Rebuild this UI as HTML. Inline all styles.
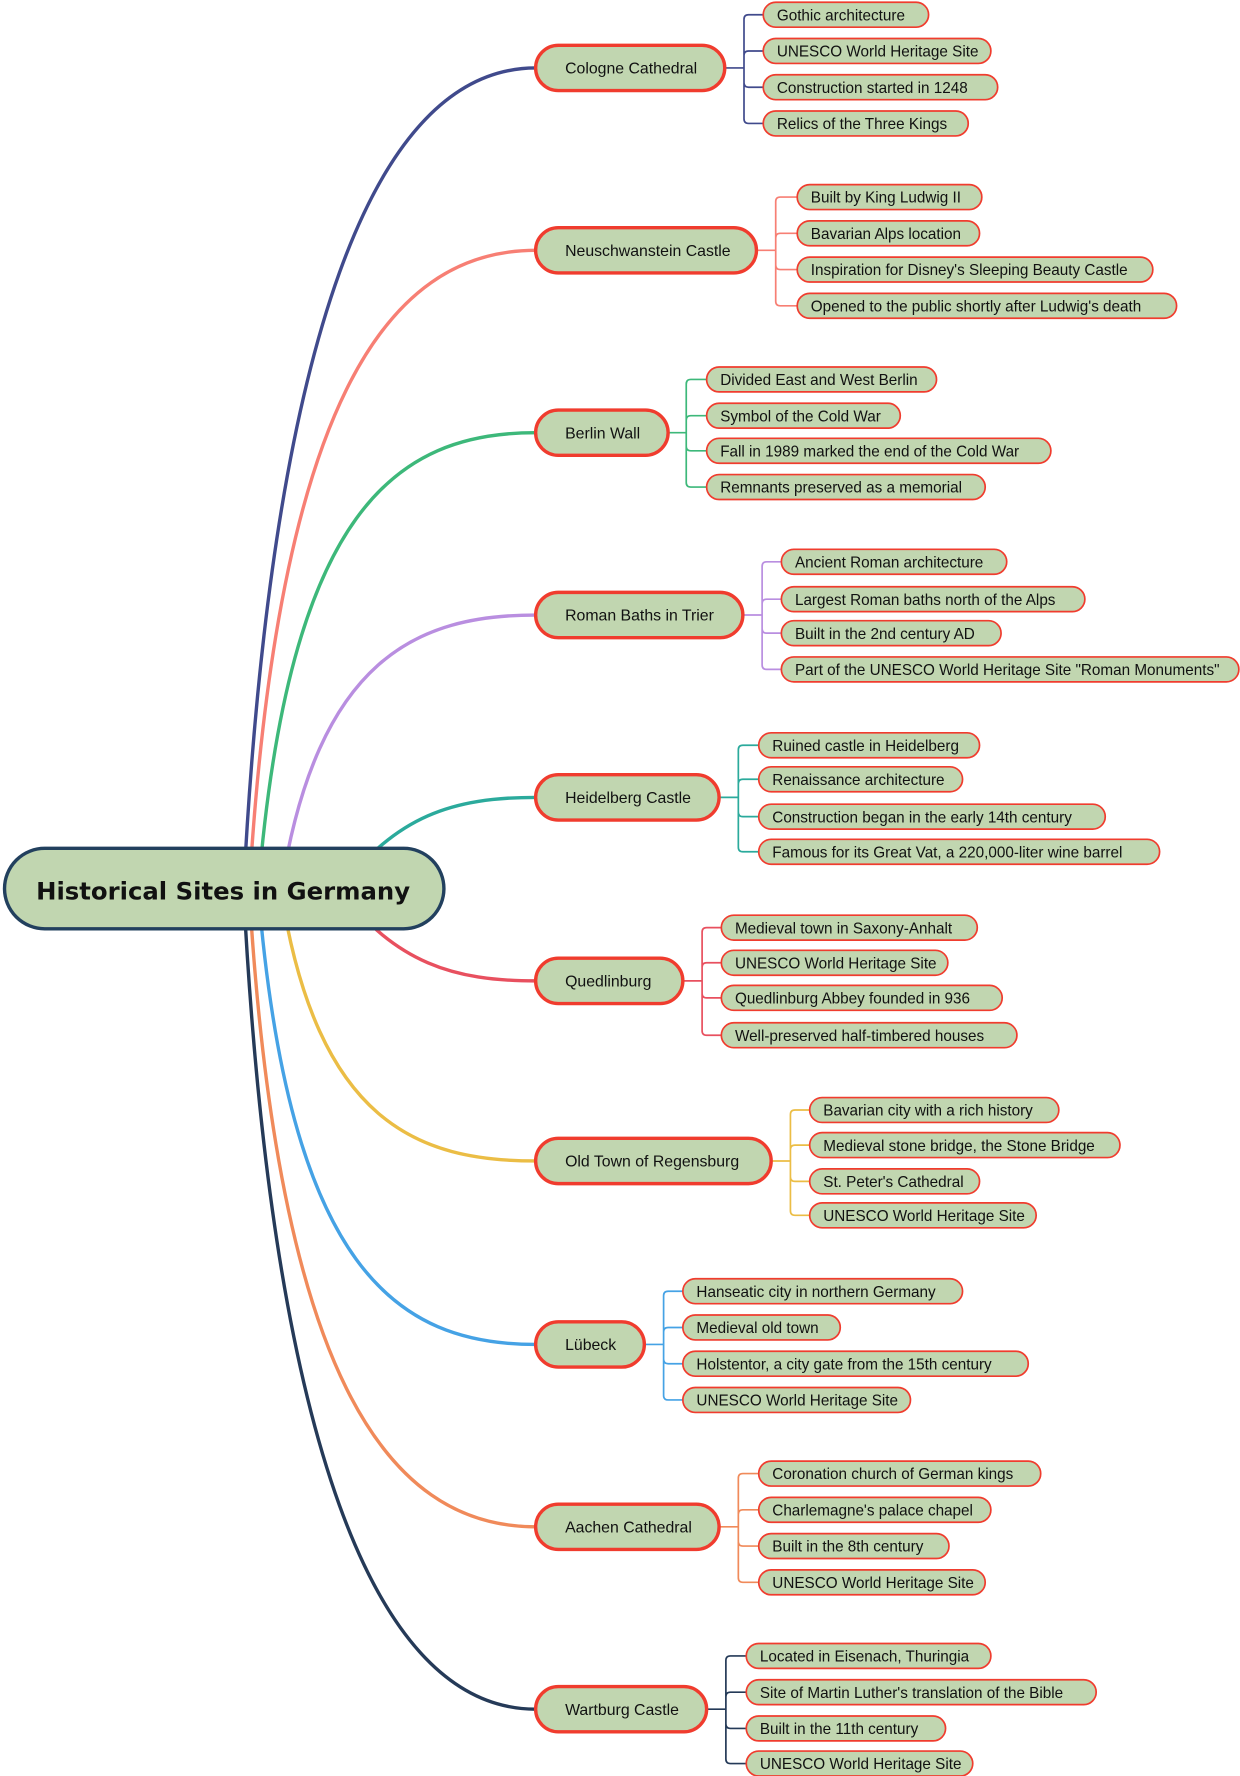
<!DOCTYPE html>
<html><head><meta charset="utf-8"><style>
html,body{margin:0;padding:0;background:#fff;}
svg{display:block;}
text{font-family:"Liberation Sans","DejaVu Sans",sans-serif;fill:#111;}
.b rect{fill:#c1d6b0;stroke:#f03c2e;stroke-width:3;}
.b text{font-size:14px;}
.l rect{fill:#c1d6b0;stroke:#f03c2e;stroke-width:1.5;}
.l text{font-size:13.5px;}
.c{fill:none;stroke-width:1.5;}
.m{fill:none;stroke-width:3;}
</style></head><body>
<svg width="1240" height="1776" viewBox="0 0 1095 1568" preserveAspectRatio="none" xmlns="http://www.w3.org/2000/svg">
<path class="m" stroke="#404a8c" d="M215,786 C240,300 330,60 473,60"/>
<path class="m" stroke="#f77f74" d="M220,786 C245,360 340,221 473,221"/>
<path class="m" stroke="#3db87a" d="M228,786 C255,450 350,382 473,382"/>
<path class="m" stroke="#b98ee0" d="M248,786 C280,580 370,543 473,543"/>
<path class="m" stroke="#2baa9c" d="M300,786 C350,720 400,704 473,704"/>
<path class="m" stroke="#e8505f" d="M300,786 C350,850 400,866 473,866"/>
<path class="m" stroke="#ebbd45" d="M248,786 C280,992 370,1025 473,1025"/>
<path class="m" stroke="#45a2e5" d="M228,786 C255,1120 350,1187 473,1187"/>
<path class="m" stroke="#f08a5a" d="M220,786 C245,1210 340,1348 473,1348"/>
<path class="m" stroke="#253a58" d="M215,786 C240,1270 330,1509 473,1509"/>

<path class="c" stroke="#404a8c" d="M640,60H657 M657,60V17Q657,13 661,13H674 M657,60V49Q657,45 661,45H674 M657,60V73Q657,77 661,77H674 M657,60V105Q657,109 661,109H674"/>
<path class="c" stroke="#f77f74" d="M668,221H685 M685,221V178Q685,174 689,174H704 M685,221V210Q685,206 689,206H704 M685,221V234Q685,238 689,238H704 M685,221V266Q685,270 689,270H704"/>
<path class="c" stroke="#3db87a" d="M590,382H606 M606,382V339Q606,335 610,335H624 M606,382V371Q606,367 610,367H624 M606,382V394Q606,398 610,398H624 M606,382V426Q606,430 610,430H624"/>
<path class="c" stroke="#b98ee0" d="M656,543H673 M673,543V500Q673,496 677,496H690 M673,543V533Q673,529 677,529H690 M673,543V555Q673,559 677,559H690 M673,543V587Q673,591 677,591H690"/>
<path class="c" stroke="#2baa9c" d="M635,704H652 M652,704V662Q652,658 656,658H670 M652,704V692Q652,688 656,688H670 M652,704V717Q652,721 656,721H670 M652,704V748Q652,752 656,752H670"/>
<path class="c" stroke="#e8505f" d="M603,866H620 M620,866V823Q620,819 624,819H637 M620,866V854Q620,850 624,850H637 M620,866V877Q620,881 624,881H637 M620,866V910Q620,914 624,914H637"/>
<path class="c" stroke="#ebbd45" d="M681,1025H698 M698,1025V984Q698,980 702,980H715 M698,1025V1015Q698,1011 702,1011H715 M698,1025V1039Q698,1043 702,1043H715 M698,1025V1069Q698,1073 702,1073H715"/>
<path class="c" stroke="#45a2e5" d="M569,1187H586 M586,1187V1144Q586,1140 590,1140H603 M586,1187V1176Q586,1172 590,1172H603 M586,1187V1200Q586,1204 590,1204H603 M586,1187V1232Q586,1236 590,1236H603"/>
<path class="c" stroke="#f08a5a" d="M635,1348H652 M652,1348V1305Q652,1301 656,1301H670 M652,1348V1337Q652,1333 656,1333H670 M652,1348V1361Q652,1365 656,1365H670 M652,1348V1393Q652,1397 656,1397H670"/>
<path class="c" stroke="#253a58" d="M624,1509H641 M641,1509V1466Q641,1462 645,1462H659 M641,1509V1498Q641,1494 645,1494H659 M641,1509V1522Q641,1526 645,1526H659 M641,1509V1553Q641,1557 645,1557H659"/>

<g class="b">
<rect x="473" y="40" width="167" height="40" rx="20"/><text x="499" y="65">Cologne Cathedral</text>
<rect x="473" y="201" width="195" height="40" rx="20"/><text x="499" y="226">Neuschwanstein Castle</text>
<rect x="473" y="362" width="117" height="40" rx="20"/><text x="499" y="387">Berlin Wall</text>
<rect x="473" y="523" width="183" height="40" rx="20"/><text x="499" y="548">Roman Baths in Trier</text>
<rect x="473" y="684" width="162" height="40" rx="20"/><text x="499" y="709">Heidelberg Castle</text>
<rect x="473" y="846" width="130" height="40" rx="20"/><text x="499" y="871">Quedlinburg</text>
<rect x="473" y="1005" width="208" height="40" rx="20"/><text x="499" y="1030">Old Town of Regensburg</text>
<rect x="473" y="1167" width="96" height="40" rx="20"/><text x="499" y="1192">Lübeck</text>
<rect x="473" y="1328" width="162" height="40" rx="20"/><text x="499" y="1353">Aachen Cathedral</text>
<rect x="473" y="1489" width="151" height="40" rx="20"/><text x="499" y="1514">Wartburg Castle</text>
</g>

<g class="l">
<rect x="674" y="2" width="146" height="22" rx="11"/><text x="686" y="18">Gothic architecture</text>
<rect x="674" y="34" width="201" height="22" rx="11"/><text x="686" y="50">UNESCO World Heritage Site</text>
<rect x="674" y="66" width="207" height="22" rx="11"/><text x="686" y="82">Construction started in 1248</text>
<rect x="674" y="98" width="181" height="22" rx="11"/><text x="686" y="114">Relics of the Three Kings</text>

<rect x="704" y="163" width="163" height="22" rx="11"/><text x="716" y="179">Built by King Ludwig II</text>
<rect x="704" y="195" width="161" height="22" rx="11"/><text x="716" y="211">Bavarian Alps location</text>
<rect x="704" y="227" width="314" height="22" rx="11"/><text x="716" y="243">Inspiration for Disney's Sleeping Beauty Castle</text>
<rect x="704" y="259" width="335" height="22" rx="11"/><text x="716" y="275">Opened to the public shortly after Ludwig's death</text>

<rect x="624" y="324" width="203" height="22" rx="11"/><text x="636" y="340">Divided East and West Berlin</text>
<rect x="624" y="356" width="171" height="22" rx="11"/><text x="636" y="372">Symbol of the Cold War</text>
<rect x="624" y="387" width="304" height="22" rx="11"/><text x="636" y="403">Fall in 1989 marked the end of the Cold War</text>
<rect x="624" y="419" width="246" height="22" rx="11"/><text x="636" y="435">Remnants preserved as a memorial</text>

<rect x="690" y="485" width="199" height="22" rx="11"/><text x="702" y="501">Ancient Roman architecture</text>
<rect x="690" y="518" width="268" height="22" rx="11"/><text x="702" y="534">Largest Roman baths north of the Alps</text>
<rect x="690" y="548" width="194" height="22" rx="11"/><text x="702" y="564">Built in the 2nd century AD</text>
<rect x="690" y="580" width="404" height="22" rx="11"/><text x="702" y="596">Part of the UNESCO World Heritage Site "Roman Monuments"</text>

<rect x="670" y="647" width="195" height="22" rx="11"/><text x="682" y="663">Ruined castle in Heidelberg</text>
<rect x="670" y="677" width="180" height="22" rx="11"/><text x="682" y="693">Renaissance architecture</text>
<rect x="670" y="710" width="306" height="22" rx="11"/><text x="682" y="726">Construction began in the early 14th century</text>
<rect x="670" y="741" width="354" height="22" rx="11"/><text x="682" y="757">Famous for its Great Vat, a 220,000-liter wine barrel</text>

<rect x="637" y="808" width="226" height="22" rx="11"/><text x="649" y="824">Medieval town in Saxony-Anhalt</text>
<rect x="637" y="839" width="200" height="22" rx="11"/><text x="649" y="855">UNESCO World Heritage Site</text>
<rect x="637" y="870" width="248" height="22" rx="11"/><text x="649" y="886">Quedlinburg Abbey founded in 936</text>
<rect x="637" y="903" width="261" height="22" rx="11"/><text x="649" y="919">Well-preserved half-timbered houses</text>

<rect x="715" y="969" width="220" height="22" rx="11"/><text x="727" y="985">Bavarian city with a rich history</text>
<rect x="715" y="1000" width="274" height="22" rx="11"/><text x="727" y="1016">Medieval stone bridge, the Stone Bridge</text>
<rect x="715" y="1032" width="150" height="22" rx="11"/><text x="727" y="1048">St. Peter's Cathedral</text>
<rect x="715" y="1062" width="200" height="22" rx="11"/><text x="727" y="1078">UNESCO World Heritage Site</text>

<rect x="603" y="1129" width="247" height="22" rx="11"/><text x="615" y="1145">Hanseatic city in northern Germany</text>
<rect x="603" y="1161" width="139" height="22" rx="11"/><text x="615" y="1177">Medieval old town</text>
<rect x="603" y="1193" width="305" height="22" rx="11"/><text x="615" y="1209">Holstentor, a city gate from the 15th century</text>
<rect x="603" y="1225" width="201" height="22" rx="11"/><text x="615" y="1241">UNESCO World Heritage Site</text>

<rect x="670" y="1290" width="249" height="22" rx="11"/><text x="682" y="1306">Coronation church of German kings</text>
<rect x="670" y="1322" width="205" height="22" rx="11"/><text x="682" y="1338">Charlemagne's palace chapel</text>
<rect x="670" y="1354" width="168" height="22" rx="11"/><text x="682" y="1370">Built in the 8th century</text>
<rect x="670" y="1386" width="200" height="22" rx="11"/><text x="682" y="1402">UNESCO World Heritage Site</text>

<rect x="659" y="1451" width="216" height="22" rx="11"/><text x="671" y="1467">Located in Eisenach, Thuringia</text>
<rect x="659" y="1483" width="309" height="22" rx="11"/><text x="671" y="1499">Site of Martin Luther's translation of the Bible</text>
<rect x="659" y="1515" width="176" height="22" rx="11"/><text x="671" y="1531">Built in the 11th century</text>
<rect x="659" y="1546" width="200" height="22" rx="11"/><text x="671" y="1562">UNESCO World Heritage Site</text>
</g>

<rect x="4" y="749" width="388" height="71" rx="35.5" fill="#c1d6b0" stroke="#22405e" stroke-width="3"/>
<text x="197" y="794" text-anchor="middle" style="font-size:21.5px;font-weight:bold;font-family:'DejaVu Sans','Liberation Sans',sans-serif">Historical Sites in Germany</text>
</svg>
</body></html>
